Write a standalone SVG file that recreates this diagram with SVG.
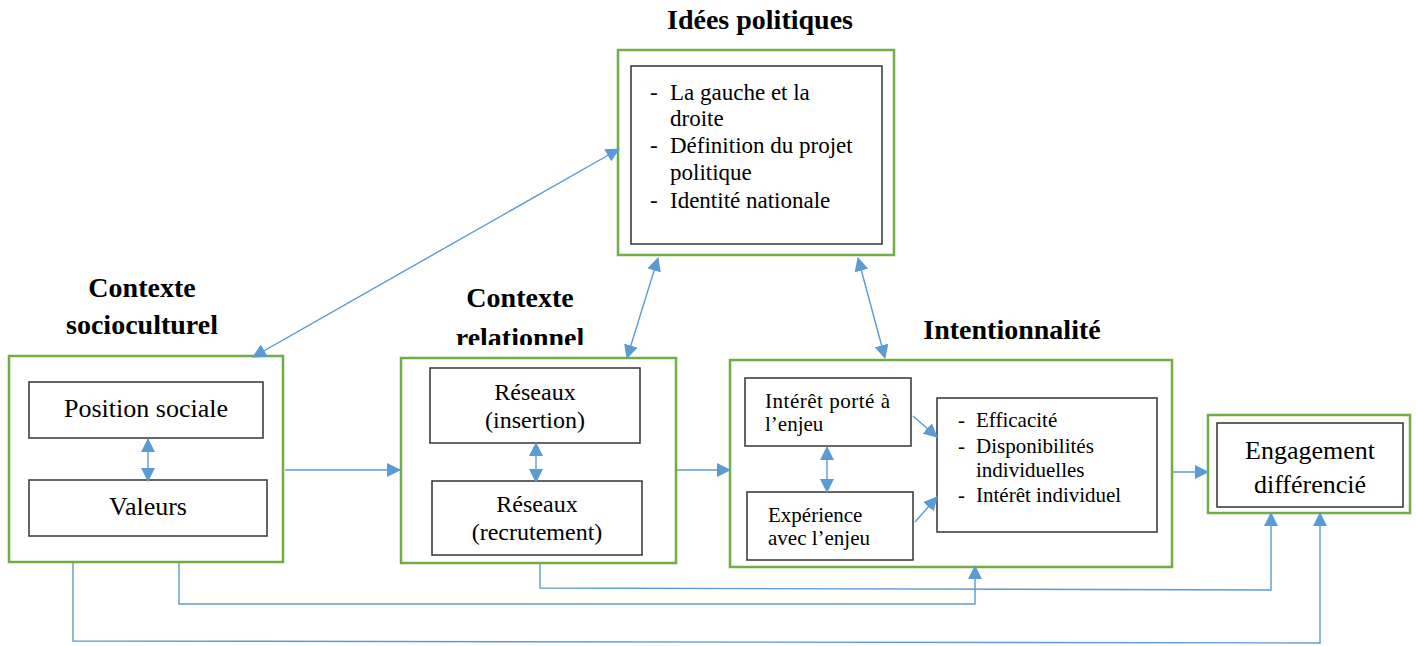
<svg xmlns="http://www.w3.org/2000/svg" width="1416" height="646" viewBox="0 0 1416 646" font-family="'Liberation Serif', 'Times New Roman', Times, 'DejaVu Serif', serif">
<style>
.outer{fill:#fff;stroke:#70AD47;stroke-width:2.5}
.inner{fill:#fff;stroke:#333;stroke-width:1.5}
text{font-family:'Liberation Serif','Times New Roman',Times,'DejaVu Serif',serif;fill:#000}
.title{font-weight:bold;font-size:28px;text-anchor:middle}
.c{text-anchor:middle}
.ln{fill:none;stroke:#5B9BD5;stroke-width:1.4}
</style>
<defs>
<marker id="ah" markerUnits="userSpaceOnUse" markerWidth="14" markerHeight="14" refX="13" refY="7" orient="auto-start-reverse" viewBox="0 0 14 14">
<path d="M0,0 L14,7 L0,14 z" fill="#5B9BD5"/>
</marker>
<clipPath id="clipRel"><rect x="400" y="270" width="220" height="75"/></clipPath>
</defs>

<g id="idees">
<text class="title" x="760" y="29">Idées politiques</text>
<rect class="outer" x="618" y="50" width="276" height="205"/>
<rect class="inner" x="631" y="66" width="251" height="178"/>
<g font-size="23">
<text x="650" y="100">-</text><text x="670" y="100">La gauche et la</text>
<text x="670" y="126">droite</text>
<text x="650" y="153">-</text><text x="670" y="153">Définition du projet</text>
<text x="670" y="180">politique</text>
<text x="650" y="208">-</text><text x="670" y="208">Identité nationale</text>
</g>
</g>

<g id="socioculturel">
<text class="title" x="142" y="297">Contexte</text>
<text class="title" x="142" y="334">socioculturel</text>
<rect class="outer" x="9" y="356" width="274" height="206"/>
<rect class="inner" x="29" y="382" width="234" height="56"/>
<text class="c" font-size="26" x="146" y="417">Position sociale</text>
<rect class="inner" x="29" y="480" width="238" height="56"/>
<text class="c" font-size="26" x="148" y="515">Valeurs</text>
</g>

<g id="relationnel">
<text class="title" x="520" y="307">Contexte</text>
<text class="title" x="520" y="347" clip-path="url(#clipRel)">relationnel</text>
<rect class="outer" x="401" y="358" width="275" height="205"/>
<rect class="inner" x="430" y="368" width="210" height="75"/>
<text class="c" font-size="24" x="535" y="400">Réseaux</text>
<text class="c" font-size="24" x="535" y="428">(insertion)</text>
<rect class="inner" x="432" y="481" width="210" height="74"/>
<text class="c" font-size="24" x="537" y="512">Réseaux</text>
<text class="c" font-size="24" x="537" y="540">(recrutement)</text>
</g>

<g id="intentionnalite">
<text class="title" x="1012" y="339">Intentionnalité</text>
<rect class="outer" x="730" y="360" width="442" height="207"/>
<rect class="inner" x="745" y="378" width="166" height="68"/>
<text font-size="21" x="765" y="408" textLength="125" lengthAdjust="spacing">Intérêt porté à</text>
<text font-size="21" x="765" y="431">l’enjeu</text>
<rect class="inner" x="747" y="492" width="166" height="68"/>
<text font-size="21" x="768" y="522">Expérience</text>
<text font-size="21" x="768" y="545">avec l’enjeu</text>
<rect class="inner" x="937" y="398" width="220" height="134"/>
<g font-size="21">
<text x="958" y="427">-</text><text x="976" y="427">Efficacité</text>
<text x="958" y="453">-</text><text x="976" y="453">Disponibilités</text>
<text x="976" y="477">individuelles</text>
<text x="958" y="502">-</text><text x="976" y="502">Intérêt individuel</text>
</g>
</g>

<g id="engagement">
<rect class="outer" x="1208" y="415" width="202" height="98"/>
<rect class="inner" x="1217" y="423" width="186" height="84"/>
<text class="c" font-size="26" x="1310" y="459">Engagement</text>
<text class="c" font-size="26" x="1310" y="493">différencié</text>
</g>

<g id="connectors">
<line class="ln" x1="253" y1="357" x2="619" y2="149" marker-start="url(#ah)" marker-end="url(#ah)"/>
<line class="ln" x1="627" y1="358" x2="658" y2="258" marker-start="url(#ah)" marker-end="url(#ah)"/>
<line class="ln" x1="885" y1="358" x2="858" y2="258" marker-start="url(#ah)" marker-end="url(#ah)"/>
<line class="ln" x1="148" y1="439" x2="148" y2="481" marker-start="url(#ah)" marker-end="url(#ah)"/>
<line class="ln" x1="536" y1="443" x2="536" y2="482" marker-start="url(#ah)" marker-end="url(#ah)"/>
<line class="ln" x1="827" y1="447" x2="827" y2="492" marker-start="url(#ah)" marker-end="url(#ah)"/>
<line class="ln" x1="285" y1="470" x2="400" y2="470" marker-end="url(#ah)"/>
<line class="ln" x1="677" y1="470" x2="730" y2="470" marker-end="url(#ah)"/>
<line class="ln" x1="913" y1="416" x2="937" y2="437" marker-end="url(#ah)"/>
<line class="ln" x1="915" y1="522" x2="937" y2="497" marker-end="url(#ah)"/>
<line class="ln" x1="1173" y1="472" x2="1208" y2="472" marker-end="url(#ah)"/>
<polyline class="ln" points="73,563 73,641 1320,643 1320,513" marker-end="url(#ah)"/>
<polyline class="ln" points="179,563 179,604 975,604 975,566" marker-end="url(#ah)"/>
<polyline class="ln" points="540,564 540,588 1271,590 1271,513" marker-end="url(#ah)"/>
</g>
</svg>
